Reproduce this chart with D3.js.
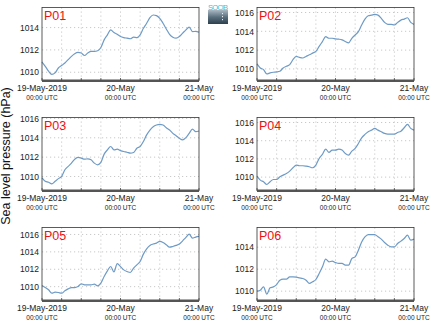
<!DOCTYPE html>
<html><head><meta charset="utf-8">
<script src="https://cdn.jsdelivr.net/npm/d3@7"></script>
<style>
html,body{margin:0;padding:0;background:#fff;}
svg{display:block;font-family:"Liberation Sans",Arial,sans-serif;}
</style></head>
<body>
<svg id="c" width="434" height="327"></svg>
<script>
const panelNames = ["P01","P02","P03","P04","P05","P06"];
const hours = d3.range(49); // hourly samples from 19-May-2019 00:00 UTC
const startTime = "2019-05-19T00:00:00Z";
const endTime = "2019-05-21T00:00:00Z";
const xTickLabels = ["19-May-2019","20-May","21-May"];
const xTickSub = "00:00 UTC";
const yAxisTitle = "Sea level pressure (hPa)";

const p01 = [1010.92,1010.53,1010.09,1009.80,1009.94,1010.38,1010.60,1010.83,1011.13,1011.42,1011.66,1011.78,1011.72,1011.50,1011.72,1011.87,1011.87,1011.93,1012.22,1012.90,1013.35,1013.80,1013.55,1013.40,1013.20,1013.10,1013.05,1013.00,1013.14,1013.10,1013.35,1013.94,1014.39,1014.89,1015.13,1015.07,1014.83,1014.39,1013.88,1013.40,1013.14,1013.05,1013.20,1013.50,1013.80,1014.05,1013.64,1013.66,1013.58];
const p02 = [1010.53,1010.10,1009.93,1009.47,1009.58,1009.65,1009.68,1009.75,1010.10,1010.28,1010.46,1010.98,1011.33,1011.23,1011.16,1011.33,1011.50,1011.68,1011.86,1012.39,1012.91,1013.44,1013.26,1013.26,1013.19,1013.16,1013.09,1012.91,1012.77,1013.26,1013.61,1013.96,1014.67,1015.30,1015.65,1015.72,1015.79,1015.72,1015.37,1014.95,1014.74,1014.74,1014.67,1014.95,1015.19,1015.30,1015.44,1014.95,1014.74];
const p03 = [1009.85,1009.50,1009.40,1009.23,1009.50,1009.78,1010.02,1010.70,1011.04,1011.38,1011.79,1011.97,1011.90,1011.79,1011.83,1011.73,1011.38,1011.21,1011.45,1012.31,1012.75,1013.10,1012.75,1012.82,1012.68,1012.58,1012.51,1012.41,1012.48,1012.92,1013.10,1013.61,1014.30,1014.80,1015.15,1015.32,1015.38,1015.32,1015.04,1014.80,1014.46,1014.22,1013.95,1013.78,1014.02,1014.46,1014.90,1014.63,1014.70];
const p04 = [1010.11,1009.67,1009.49,1009.19,1009.49,1009.74,1009.74,1010.04,1010.22,1010.40,1010.66,1011.03,1011.32,1011.25,1011.25,1011.21,1011.14,1011.03,1011.32,1012.05,1012.49,1013.08,1012.71,1012.97,1012.97,1013.08,1012.97,1012.60,1012.42,1012.86,1013.15,1013.70,1014.32,1014.69,1014.98,1015.16,1015.35,1015.16,1014.98,1014.80,1014.73,1014.73,1014.73,1014.91,1015.05,1015.42,1015.79,1015.35,1015.16];
const p05 = [1010.13,1009.90,1009.64,1009.25,1009.37,1009.33,1009.25,1009.52,1009.75,1009.90,1009.90,1010.02,1010.33,1010.21,1010.21,1010.21,1010.29,1010.10,1010.40,1011.17,1011.82,1012.32,1011.70,1012.65,1012.30,1011.93,1011.74,1011.63,1012.13,1012.51,1012.89,1013.74,1014.35,1014.74,1014.90,1015.00,1015.20,1015.08,1014.82,1014.55,1014.62,1014.74,1014.90,1015.27,1015.66,1016.04,1015.58,1015.70,1015.77];
const p06 = [1010.00,1010.09,1010.39,1009.73,1010.30,1010.39,1010.60,1011.00,1011.09,1011.09,1011.30,1011.30,1011.27,1011.21,1011.15,1011.00,1010.70,1010.85,1011.06,1011.60,1012.21,1012.91,1012.67,1012.73,1012.60,1012.52,1012.52,1012.36,1012.36,1012.97,1013.12,1013.73,1014.48,1014.94,1015.15,1015.15,1015.15,1014.94,1014.73,1014.42,1014.18,1014.03,1014.03,1014.33,1014.55,1014.79,1015.09,1014.64,1014.73];
const series = [p01,p02,p03,p04,p05,p06];
const yDomains = [[1009.26,1015.8],[1008.77,1016.53],[1008.55,1016.1],[1008.53,1016.55],[1008.41,1016.8],[1009.15,1015.79]];
const yTickValues = [1010,1012,1014,1016];

const svg = d3.select("#c");
const t0 = new Date(startTime), t1 = new Date(endTime);
const colX = [42, 257], rowY = [7.5, 117.5, 227.5];
const W = 157, H = 73;

series.forEach((vals, i) => {
  const ox = colX[i % 2], oy = rowY[Math.floor(i / 2)];
  const g = svg.append("g").attr("transform", `translate(${ox},${oy})`);
  const x = d3.scaleUtc().domain([t0, t1]).range([0, W]);
  const y = d3.scaleLinear().domain(yDomains[i]).range([H, 0]);
  g.append("rect").attr("width", W).attr("height", H).attr("fill", "#fff");
  const yt = yTickValues.filter(v => v >= yDomains[i][0] && v <= yDomains[i][1]);
  const xt = d3.utcHour.every(6).range(t0, d3.utcHour.offset(t1, 1));
  // grid
  g.append("g").selectAll("line").data(yt).join("line")
    .attr("x1", 0).attr("x2", W).attr("y1", d => y(d)).attr("y2", d => y(d))
    .attr("stroke", "#c8c8c8").attr("stroke-width", 1).attr("stroke-dasharray", "1.2,2.8");
  g.append("g").selectAll("line").data(xt.slice(1, -1)).join("line")
    .attr("x1", d => x(d)).attr("x2", d => x(d)).attr("y1", 0).attr("y2", H)
    .attr("stroke", "#c8c8c8").attr("stroke-width", 1).attr("stroke-dasharray", "1.2,2.8");
  // line
  const pts = hours.map((h, k) => [d3.utcHour.offset(t0, h), vals[k]]);
  g.append("path").datum(pts)
    .attr("fill", "none").attr("stroke", "#6e9bc6").attr("stroke-width", 1.2)
    .attr("stroke-linejoin", "round")
    .attr("d", d3.line().x(d => x(d[0])).y(d => y(d[1])).curve(d3.curveMonotoneX));
  // border
  g.append("rect").attr("width", W).attr("height", H).attr("fill", "none")
    .attr("stroke", "#333").attr("stroke-width", 0.8);
  g.append("line").attr("x1", 0).attr("x2", W).attr("y1", H + 0.3).attr("y2", H + 0.3)
    .attr("stroke", "#555").attr("stroke-width", 2.4);
  // bottom ticks
  g.append("g").selectAll("line").data(xt).join("line")
    .attr("x1", d => x(d)).attr("x2", d => x(d)).attr("y1", H).attr("y2", H - 2.5)
    .attr("stroke", "#444").attr("stroke-width", 0.8);
  // y axis labels
  const ya = d3.axisLeft(y).tickValues(yt).tickSize(0).tickPadding(3).tickFormat(d3.format("d"));
  const yg = g.append("g").call(ya);
  yg.select(".domain").remove();
  yg.selectAll("text").attr("font-size", 8.5).attr("fill", "#222")
    .attr("font-family", "'Liberation Sans',Arial,sans-serif");
  // x labels
  const xl = [t0, d3.utcHour.offset(t0, 24), t1];
  g.append("g").selectAll("text").data(xl).join("text")
    .attr("x", d => x(d)).attr("y", H + 10.8).attr("text-anchor", "middle")
    .attr("font-size", 8.5).attr("fill", "#222").text((d, k) => xTickLabels[k]);
  g.append("g").selectAll("text").data(xl).join("text")
    .attr("x", d => x(d)).attr("y", H + 19.3).attr("text-anchor", "middle")
    .attr("font-size", 6.5).attr("fill", "#222").text(xTickSub);
  // panel name
  g.append("text").attr("x", 2).attr("y", 12.6).attr("font-size", 12.5)
    .attr("fill", "#ee1111").text(panelNames[i]);
});

// y axis title
svg.append("text").attr("transform", "translate(10,156) rotate(-90)")
  .attr("text-anchor", "middle").attr("font-size", 12.5).attr("fill", "#111").text(yAxisTitle);

// logo
const defs = svg.append("defs");
const lg = defs.append("linearGradient").attr("id", "lg").attr("x1", 0).attr("y1", 0).attr("x2", 0).attr("y2", 1);
lg.append("stop").attr("offset", 0).attr("stop-color", "#a9b8c2");
lg.append("stop").attr("offset", 0.5).attr("stop-color", "#5b7080");
lg.append("stop").attr("offset", 1).attr("stop-color", "#2c3f4c");
svg.append("rect").attr("x", 208).attr("y", 10).attr("width", 20).attr("height", 14).attr("fill", "url(#lg)");
svg.append("text").attr("x", 218).attr("y", 9.5).attr("text-anchor", "middle").attr("font-size", 7.5)
  .attr("fill", "#3cc2d8").attr("textLength", 20).text("SOCIB");
svg.append("g").selectAll("rect").data([13, 16, 19]).join("rect")
  .attr("x", 222).attr("y", d => d).attr("width", 1).attr("height", 1.2).attr("fill", "#e8eef2");
</script>
</body></html>
